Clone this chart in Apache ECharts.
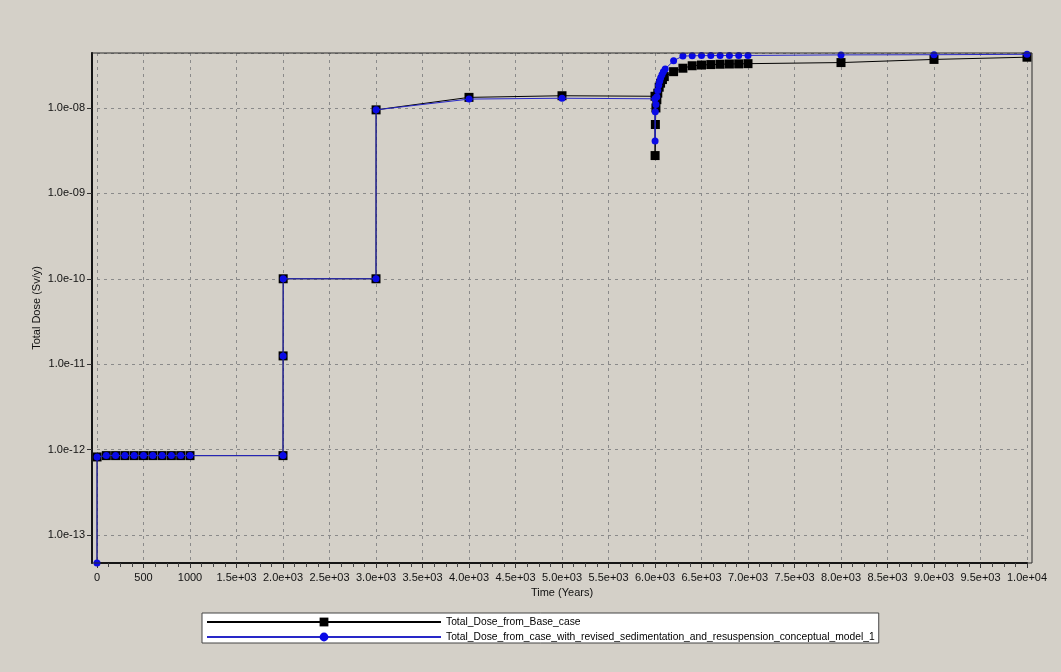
<!DOCTYPE html>
<html><head><meta charset="utf-8">
<script src="https://cdn.jsdelivr.net/npm/echarts@6/dist/echarts.min.js"></script>
<style>html,body{margin:0;padding:0;background:#d4d0c8}#c{width:1061px;height:672px}</style>
</head><body><div id="c"></div>
<script>
const seriesNames = ['Total_Dose_from_Base_case', 'Total_Dose_from_case_with_revised_sedimentation_and_resuspension_conceptual_model_1'];
const xAxisTitle = 'Time (Years)';
const yAxisTitle = 'Total Dose (Sv/y)';
const xTickLabels = ['0','500','1000','1.5e+03','2.0e+03','2.5e+03','3.0e+03','3.5e+03','4.0e+03','4.5e+03','5.0e+03','5.5e+03','6.0e+03','6.5e+03','7.0e+03','7.5e+03','8.0e+03','8.5e+03','9.0e+03','9.5e+03','1.0e+04'];
const yTickExponents = [-13, -12, -11, -10, -9, -8];
const yTickLabels = ['1.0e-13','1.0e-12','1.0e-11','1.0e-10','1.0e-09','1.0e-08'];

// Base case (black squares)
const baseTimes = [0, 1, 100, 200, 300, 400, 500, 600, 700, 800, 900, 1000, 2000, 2001, 2002, 3000, 3001, 4000, 5000, 6000, 6001, 6004, 6010, 6020, 6030, 6045, 6060, 6080, 6100, 6200, 6300, 6400, 6500, 6600, 6700, 6800, 6900, 7000, 8000, 9000, 10000];
const baseDose  = [1e-14, 8.2e-13, 8.5e-13, 8.5e-13, 8.5e-13, 8.5e-13, 8.5e-13, 8.5e-13, 8.5e-13, 8.5e-13, 8.5e-13, 8.5e-13, 8.5e-13, 1.25e-11, 1.0e-10, 1.0e-10, 9.5e-9, 1.33e-8, 1.39e-8, 1.37e-8, 2.77e-9, 6.4e-9, 1.0e-8, 1.25e-8, 1.49e-8, 1.75e-8, 1.95e-8, 2.15e-8, 2.33e-8, 2.66e-8, 2.92e-8, 3.12e-8, 3.18e-8, 3.22e-8, 3.25e-8, 3.27e-8, 3.28e-8, 3.3e-8, 3.4e-8, 3.7e-8, 3.93e-8];

// Revised case (blue circles)
const revTimes = [0, 1, 100, 200, 300, 400, 500, 600, 700, 800, 900, 1000, 2000, 2001, 2002, 3000, 3001, 4000, 5000, 6000, 6001, 6003, 6010, 6020, 6030, 6040, 6050, 6060, 6075, 6090, 6110, 6200, 6300, 6400, 6500, 6600, 6700, 6800, 6900, 7000, 8000, 9000, 10000];
const revDose  = [4.7e-14, 8.2e-13, 8.5e-13, 8.5e-13, 8.5e-13, 8.5e-13, 8.5e-13, 8.5e-13, 8.5e-13, 8.5e-13, 8.5e-13, 8.5e-13, 8.5e-13, 1.25e-11, 1.0e-10, 1.0e-10, 9.5e-9, 1.27e-8, 1.30e-8, 1.28e-8, 4.1e-9, 9.0e-9, 1.1e-8, 1.35e-8, 1.6e-8, 1.85e-8, 2.05e-8, 2.25e-8, 2.45e-8, 2.65e-8, 2.85e-8, 3.58e-8, 4.05e-8, 4.08e-8, 4.1e-8, 4.1e-8, 4.11e-8, 4.11e-8, 4.12e-8, 4.12e-8, 4.18e-8, 4.2e-8, 4.25e-8];

const FONT = '"Liberation Sans", Arial, sans-serif';
const zip = (a, b) => a.map((t, i) => [t, b[i]]);

const chart = echarts.init(document.getElementById('c'), null, {renderer: 'canvas'});
chart.setOption({
  animation: false,
  backgroundColor: '#d4d0c8',
  textStyle: {fontFamily: FONT},
  grid: [
    {left: 97, right: 34, top: 53, bottom: 109, show: false},
    {left: 92, right: 29, top: 53, bottom: 109, show: true, z: 10,
     borderColor: '#2a2a2a', borderWidth: 1, backgroundColor: 'transparent'}
  ],
  legend: {
    orient: 'vertical', left: 202, top: 613,
    backgroundColor: '#ffffff', borderColor: '#444', borderWidth: 1,
    padding: [4, 4, 1, 4], itemGap: 5, itemWidth: 234, itemHeight: 11,
    selectedMode: false,
    textStyle: {fontSize: 10.3, color: '#000', fontFamily: FONT},
    data: seriesNames
  },
  xAxis: {
    type: 'value', gridIndex: 0, min: 0, max: 10000, interval: 500,
    name: xAxisTitle, nameLocation: 'middle', nameGap: 22,
    nameTextStyle: {fontSize: 11, color: '#111', fontFamily: FONT},
    axisLine: {show: true, onZero: false, lineStyle: {color: '#000', width: 2}},
    axisTick: {show: true, length: 5, lineStyle: {color: '#333'}},
    minorTick: {show: true, splitNumber: 4, length: 4, lineStyle: {color: '#444'}},
    axisLabel: {
      fontSize: 11, color: '#111', margin: 9, fontFamily: FONT,
      formatter: v => { const i = Math.round(v / 500); return Math.abs(v - i * 500) < 1e-6 ? (xTickLabels[i] || '') : ''; }
    },
    splitLine: {show: true, lineStyle: {color: '#8a8a8a', type: [3, 4], width: 1}}
  },
  yAxis: {
    type: 'log', gridIndex: 0, logBase: 10, min: 4.7e-14, max: 4.4e-8, offset: 5,
    name: yAxisTitle, nameLocation: 'middle', nameGap: 50, nameRotate: 90, nameMoveOverlap: false,
    nameTextStyle: {fontSize: 11, color: '#111', fontFamily: FONT},
    axisLine: {show: true, onZero: false, lineStyle: {color: '#000', width: 2}},
    axisTick: {show: true, length: 5, lineStyle: {color: '#333'}},
    axisLabel: {
      fontSize: 11, color: '#111', margin: 7, fontFamily: FONT, showMinLabel: false, showMaxLabel: false,
      formatter: v => { const e = Math.log10(v); const r = Math.round(e); if (Math.abs(e - r) > 1e-6) return ''; const k = yTickExponents.indexOf(r); return k >= 0 ? yTickLabels[k] : ''; }
    },
    splitLine: {show: true, lineStyle: {color: '#8a8a8a', type: [3, 4], width: 1}}
  },
  series: [
    {
      name: seriesNames[0], type: 'line', xAxisIndex: 0, yAxisIndex: 0,
      data: zip(baseTimes, baseDose), symbol: 'rect', symbolSize: 9, showSymbol: true,
      itemStyle: {color: '#000'}, lineStyle: {color: '#000', width: 1}, z: 2
    },
    {
      name: seriesNames[1], type: 'line', xAxisIndex: 0, yAxisIndex: 0,
      data: zip(revTimes, revDose), symbol: 'circle', symbolSize: 7, showSymbol: true,
      itemStyle: {color: '#0a0ae6'}, lineStyle: {color: '#2828c8', width: 1}, z: 3
    }
  ]
});
</script>
</body></html>
